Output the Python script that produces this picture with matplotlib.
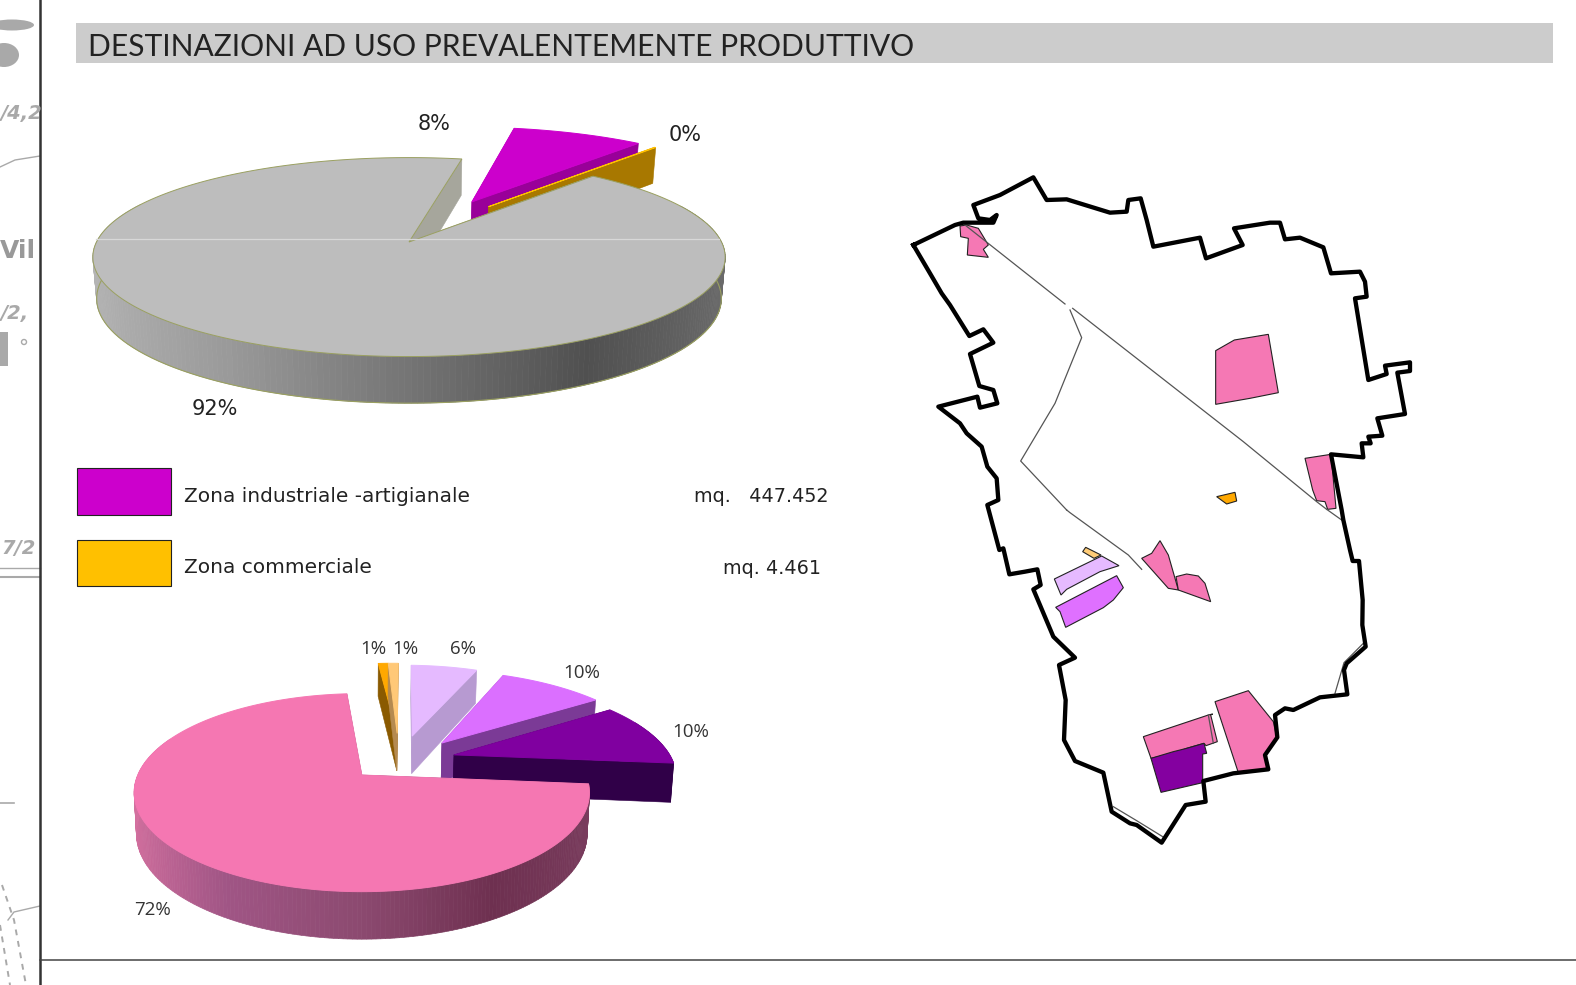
import numpy as np
import matplotlib
matplotlib.use("Agg")
import matplotlib.pyplot as plt
from matplotlib.colors import to_rgb
from matplotlib.patches import Polygon, Rectangle, Circle, Ellipse

# pie data, clockwise from the start angle
TOP_SHARES = [8.2, 0.08, 91.72]
TOP_LABELS = ['8%', '0%', '92%']
TOP_COLORS = ['#cc00cc', '#ffc000', '#bdbdbd']
TOP_SIDES = ['#990099', '#a87800', '#a6a69c']

LOW_SHARES = [0.9, 0.9, 5.9, 9.2, 10.8, 72.3]
LOW_LABELS = ['1%', '1%', '6%', '10%', '10%', '72%']
LOW_COLORS = ['#ffa800', '#ffc877', '#e5baff', '#db6fff', '#8000a0', '#f577b2']
LOW_SIDES = ['#8a5a00', '#b58a50', '#b79ad1', '#7b3a96', '#300048', '#8a4770']

LEGEND_NAMES = ['Zona industriale -artigianale', 'Zona commerciale']
LEGEND_AREAS = ['mq.   447.452', 'mq. 4.461']
LEGEND_COLORS = ['#cc00cc', '#ffc000']

TITLE = 'DESTINAZIONI AD USO PREVALENTEMENTE PRODUTTIVO'

# map outlines, traced in two crops of the sheet
NORTH_BOUNDARY = [(40, 225), (165, 165), (190, 158), (280, 158), (290, 135), (270, 150), (235, 145), (220, 105),
                  (300, 75), (400, 22), (440, 90), (500, 88), (630, 128), (680, 125), (685, 90), (722, 85),
                  (740, 150), (760, 230), (900, 203), (918, 265), (1028, 225), (1002, 175), (1110, 158),
                  (1140, 158), (1155, 208), (1200, 203), (1270, 232), (1293, 310), (1380, 305), (1395, 335),
                  (1400, 380), (1365, 385), (1405, 630), (1460, 612), (1455, 587), (1530, 577), (1530, 603),
                  (1492, 608), (1515, 732), (1432, 745), (1447, 797), (1405, 800), (1412, 820), (1385, 820),
                  (1390, 862), (1293, 853), (1325, 1020)]
SOUTH_BOUNDARY = [(1270, 60), (1290, 150), (1298, 183), (1317, 183), (1328, 300), (1327, 375), (1337, 440),
                  (1280, 490), (1272, 510), (1282, 583), (1200, 592), (1120, 630), (1095, 625), (1065, 645),
                  (1072, 712), (1035, 765), (1045, 808), (940, 820), (850, 843), (857, 905), (797, 915),
                  (725, 1028), (650, 975), (630, 970), (575, 935), (550, 818), (465, 783), (432, 720),
                  (437, 600), (417, 495), (465, 473), (400, 410), (340, 268), (362, 255), (352, 208),
                  (315, 215), (268, 223), (250, 145), (238, 150), (202, 15), (235, 0)]
WEST_BOUNDARY = [(290, 925), (262, 890), (245, 830), (200, 790), (180, 760), (115, 710), (232, 680), (240, 713),
                 (292, 700), (280, 660), (238, 648), (210, 552), (280, 518), (250, 478), (208, 498), (150, 405),
                 (125, 370), (90, 310), (40, 225)]

NORTH_ROADS = [[(195, 165), (495, 402)],
               [(518, 415), (1030, 815), (1250, 995), (1280, 1018)],
               [(510, 420), (545, 503), (465, 700), (362, 873), (500, 1020)]]
SOUTH_ROADS = [[(440, 30), (450, 38), (625, 165), (665, 208)],
               [(1220, 28), (1265, 60)],
               [(1330, 430), (1272, 488), (1245, 580)],
               [(580, 920), (650, 962), (728, 1010)],
               [(865, 645), (880, 730)]]

NORTH_ZONES = [([(180, 168), (200, 165), (235, 175), (265, 225), (250, 238), (265, 262), (202, 255), (205, 205),
                 (182, 200)], '#f578b4'),
               ([(947, 542), (1003, 510), (1105, 493), (1135, 668), (1050, 685), (947, 703)], '#f578b4'),
               ([(1215, 865), (1293, 853), (1308, 1015), (1283, 1018), (1275, 995), (1250, 992), (1238, 960)],
                '#f578b4'),
               ([(950, 980), (1005, 967), (1010, 993), (980, 1002)], '#ffa800')]
SOUTH_ZONES = [([(665, 175), (695, 160), (720, 122), (745, 165), (775, 270), (745, 265)], '#f578b4'),
               ([(768, 230), (800, 222), (835, 228), (855, 250), (872, 305), (775, 270)], '#f578b4'),
               ([(670, 710), (865, 645), (878, 642), (872, 645), (892, 725), (858, 737), (852, 730), (800, 745),
                 (760, 760), (693, 775)], '#f578b4'),
               ([(885, 605), (985, 572), (1060, 665), (1070, 712), (1035, 765), (1045, 808), (955, 818)], '#f578b4'),
               ([(693, 775), (760, 755), (800, 745), (852, 730), (860, 760), (848, 762), (848, 848), (723, 877)],
                '#8400a0'),
               ([(403, 237), (545, 168), (597, 197), (540, 215), (440, 268), (423, 285)], '#e6baff'),
               ([(488, 155), (497, 142), (543, 165), (522, 175)], '#ffcc77'),
               ([(407, 322), (590, 227), (610, 263), (580, 300), (550, 323), (437, 382), (420, 335)], '#df70ff')]

GRAY_WALL = ['#b4b4b4', '#9a9a9a', '#757575', '#505050', '#6c6c6c']
PINK_WALL = ['#d4709f', '#a05585', '#8c4a70', '#6e3050', '#7a3d5e']


def from_north(points):
    return [(900 + x / 3, 170 + y / 3) for x, y in points]


def from_south(points):
    return [(920 + x / 3, 500 + y / 3) for x, y in points]


def project(u, v, pie, lower=False):
    # circle in the plane of the pie seen through a simple perspective
    w = 1 - pie['k'] * v
    s = pie['shrink'] if lower else 1.0
    x = pie['cx'] + s * pie['a'] * u / w
    y = pie['cy'] + s * pie['b'] * v / w
    if lower:
        y = y + pie['depth'] / w
    return x, y


def wall_color(stops, pos):
    rgb = np.array([to_rgb(c) for c in stops])
    at = np.linspace(-1, 1, len(stops))
    return [np.interp(pos, at, rgb[:, i]) for i in range(3)]


def draw_pie(ax, pie, shares, colors, sides, dirs, dists, gradient=None, rim=None):
    starts = pie['start'] + np.cumsum([0] + shares[:-1]) * 3.6
    for i in range(len(shares)):
        a0 = np.radians(starts[i])
        a1 = np.radians(starts[i] + shares[i] * 3.6)
        turn = np.radians(dirs[i])
        ou = dists[i] * np.sin(turn)
        ov = -dists[i] * np.cos(turn)
        t = np.linspace(a0, a1, max(3, int(shares[i] * 3.6) + 2))
        u = ou + np.sin(t)
        v = ov - np.cos(t)

        # the two cut faces
        for tt in (a0, a1):
            uu = [ou, ou + np.sin(tt)]
            vv = [ov, ov - np.cos(tt)]
            top = [project(uu[j], vv[j], pie) for j in range(2)]
            low = [project(uu[j], vv[j], pie, True) for j in range(2)]
            ax.add_patch(Polygon(top + low[::-1], closed=True, fc=sides[i], ec=sides[i], lw=0.4))

        # outer wall, shaded piece by piece, only the part facing the viewer
        for j in range(len(t) - 1):
            if -np.cos(t[j]) < -0.4:
                continue
            quad = [project(u[j], v[j], pie), project(u[j + 1], v[j + 1], pie),
                    project(u[j + 1], v[j + 1], pie, True), project(u[j], v[j], pie, True)]
            col = sides[i]
            if gradient is not None and shares[i] > 50:
                col = wall_color(gradient, np.sin(t[j]))
            ax.add_patch(Polygon(quad, closed=True, fc=col, ec=col, lw=0.5))
        if rim is not None and shares[i] > 50:
            front = -np.cos(t) > -0.1
            xb, yb = project(u[front], v[front], pie, True)
            ax.plot(xb, yb, color=rim, lw=0.8, zorder=1)

        # top surface
        xt, yt = project(u, v, pie)
        xa, ya = project(ou, ov, pie)
        outline = rim if (rim is not None and shares[i] > 50) else colors[i]
        ax.add_patch(Polygon(list(zip(xt, yt)) + [(xa, ya)], closed=True, fc=colors[i], ec=outline, lw=0.7))


fig = plt.figure(figsize=(15.76, 9.85), dpi=100)
ax = fig.add_axes([0, 0, 1, 1])
ax.set_xlim(0, 1576)
ax.set_ylim(985, 0)
ax.axis('off')

# left strip: scraps of the scanned map behind the page
scan = '#a9a9a9'
ax.add_patch(Ellipse((12, 25), 44, 11, fc=scan, ec='none'))
ax.add_patch(Ellipse((4, 55), 30, 24, fc=scan, ec='none'))
ax.add_patch(Rectangle((0, 332), 8, 34, fc=scan, ec='none'))
ax.add_patch(Circle((24, 342), 2.5, fc='white', ec=scan, lw=1))
ax.text(1, 113, '/4,2', fontsize=14, style='italic', color=scan, va='center', weight='bold')
ax.text(0, 251, 'Vil', fontsize=18, color='#999999', va='center', weight='bold')
ax.text(1, 313, '/2,', fontsize=14, style='italic', color=scan, va='center', weight='bold')
ax.text(1, 549, '7/2', fontsize=14, style='italic', color=scan, va='center', weight='bold')
ax.plot([0, 15, 40], [167, 160, 156], color=scan, lw=1)
ax.plot([0, 40], [568, 568], color=scan, lw=1)
ax.plot([0, 40], [577, 577], color=scan, lw=1.5)
ax.plot([0, 14], [803, 803], color=scan, lw=1.2)
ax.plot([8, 14, 40], [920, 912, 906], color=scan, lw=1)
ax.plot([2, 14, 26], [885, 920, 985], color=scan, lw=1.4, ls=(0, (3, 3)))
ax.plot([0, 10], [925, 985], color=scan, lw=1.4, ls=(0, (3, 3)))

# page frame
ax.add_patch(Rectangle((41, 0), 1535, 985, fc='white', ec='none', zorder=0.5))
ax.plot([40, 40], [0, 985], color='#333333', lw=1.8)
ax.plot([40, 1576], [960, 960], color='#444444', lw=1.1)

# title band
ax.add_patch(Rectangle((76, 23), 1477, 40, fc='#cccccc', ec='none'))
ax.text(88, 47.5, TITLE, fontsize=21.6, family='Lato', color='#222222', va='center')

# upper pie
top_pie = dict(cx=409, cy=242, a=312.5, b=97.2, k=0.1515, depth=40.7, shrink=0.988, start=11.2)
draw_pie(ax, top_pie, TOP_SHARES, TOP_COLORS, TOP_SIDES, [26, 35, 0], [0.49, 0.47, 0], GRAY_WALL, '#9aa060')
ax.plot([96, 719], [239, 239], color='#d8d8d8', lw=0.9)
for label, x, y in zip(TOP_LABELS, [434, 685, 215], [124, 135, 409]):
    ax.text(x, y, label, fontsize=15, color='#222222', ha='center', va='center')

# legend
for i in range(len(LEGEND_NAMES)):
    ax.add_patch(Rectangle((77.5, 468 + 71.5 * i), 94, 46.5, fc=LEGEND_COLORS[i], ec='#222222', lw=0.8))
    ax.text(184, 497 + 70.5 * i, LEGEND_NAMES[i], fontsize=14.5, color='#222222', va='center')
ax.text(829, 497, LEGEND_AREAS[0], fontsize=13.8, color='#222222', ha='right', va='center')
ax.text(821, 568, LEGEND_AREAS[1], fontsize=13.8, color='#222222', ha='right', va='center')

# lower pie
low_pie = dict(cx=361.8, cy=775, a=224, b=95.9, k=0.178, depth=40, shrink=0.99, start=-4.5)
draw_pie(ax, low_pie, LOW_SHARES, LOW_COLORS, LOW_SIDES, [20, 20, 29, 47, 63, 0], [0.5, 0.5, 0.5, 0.52, 0.48, 0],
         PINK_WALL)
for label, x, y in zip(LOW_LABELS, [373, 405, 463, 582, 691, 153], [649, 649, 649, 673, 732, 910]):
    ax.text(x, y, label, fontsize=13.5, family='Open Sans', color='#333333', ha='center', va='center')

# map
for pts, col in NORTH_ZONES:
    ax.add_patch(Polygon(from_north(pts), closed=True, fc=col, ec='#222222', lw=0.8))
for pts, col in SOUTH_ZONES:
    ax.add_patch(Polygon(from_south(pts), closed=True, fc=col, ec='#222222', lw=0.8))
for road in NORTH_ROADS:
    ax.plot(*zip(*from_north(road)), color='#555555', lw=0.9)
for road in SOUTH_ROADS:
    ax.plot(*zip(*from_south(road)), color='#555555', lw=0.9)
outline = from_north(NORTH_BOUNDARY) + from_south(SOUTH_BOUNDARY) + from_north(WEST_BOUNDARY)
ax.plot(*zip(*outline), color='black', lw=3.1, solid_joinstyle='round')

fig.savefig('out.png', dpi=100)
